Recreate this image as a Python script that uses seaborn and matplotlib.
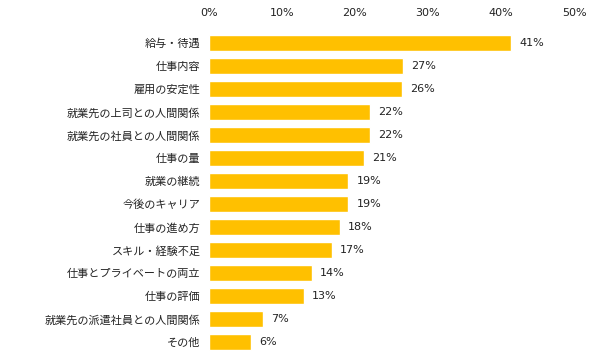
import pandas as pd
import matplotlib
matplotlib.use("Agg")
import matplotlib.pyplot as plt
import seaborn as sns

# Data
categories = [
    "給与・待遇", "仕事内容", "雇用の安定性", "就業先の上司との人間関係",
    "就業先の社員との人間関係", "仕事の量", "就業の継続", "今後のキャリア",
    "仕事の進め方", "スキル・経験不足", "仕事とプライベートの両立", "仕事の評価",
    "就業先の派遣社員との人間関係", "その他",
]
values = [41.4, 26.6, 26.4, 22.1, 22.1, 21.2, 19.1, 19.1, 17.9, 16.8, 14.1, 13.0, 7.4, 5.8]
value_labels = ["41%", "27%", "26%", "22%", "22%", "21%", "19%", "19%",
                "18%", "17%", "14%", "13%", "7%", "6%"]
x_ticks = [0, 10, 20, 30, 40, 50]

df = pd.DataFrame({"category": categories, "value": values})

sns.set_theme(style="white")
plt.rcParams["font.family"] = ["Noto Sans CJK JP", "DejaVu Sans"]

fig = plt.figure(figsize=(6.05, 3.63), dpi=100)
ax = fig.add_axes([0.345, 0.026, 0.604, 0.887])

sns.barplot(data=df, x="value", y="category", orient="h", color="#FFC000",
            saturation=1, width=0.68, ax=ax)

ax.set_xlim(0, 50)
ax.set_xticks(x_ticks)
ax.set_xticklabels([f"{t}%" for t in x_ticks], family="DejaVu Sans", fontsize=8, color="#222222")
ax.xaxis.tick_top()
ax.tick_params(axis="x", length=0, pad=10)
ax.tick_params(axis="y", length=0, pad=6, labelsize=8, labelcolor="#222222")
ax.set_xlabel("")
ax.set_ylabel("")
for s in ax.spines.values():
    s.set_visible(False)

for i, (v, lab) in enumerate(zip(values, value_labels)):
    ax.text(v + 1.1, i, lab, va="center", ha="left", fontsize=8,
            family="DejaVu Sans", color="#222222")

fig.savefig("out.png", dpi=100)
